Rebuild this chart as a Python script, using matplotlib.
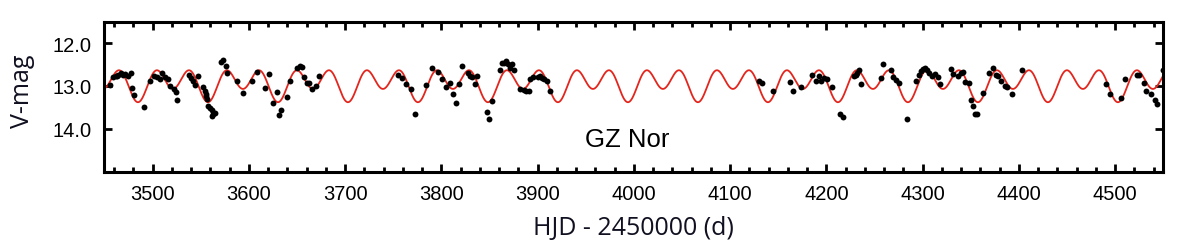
import numpy as np
import matplotlib
matplotlib.use("Agg")
import matplotlib.pyplot as plt
from matplotlib.ticker import MultipleLocator

# observed V magnitudes (HJD - 2450000)
hjd = [
    3455.7, 3459.2, 3461.6, 3463.0, 3464.4, 3466.8, 3468.9, 3471.3, 3474.0, 3477.2,
    3478.2, 3481.0, 3491.4, 3497.3, 3501.8, 3504.9, 3507.7, 3510.1, 3512.9, 3516.3,
    3518.1, 3522.2, 3524.3, 3525.7, 3538.2, 3540.0, 3542.3, 3544.1, 3547.5, 3552.1,
    3554.8, 3555.3, 3555.8, 3556.2, 3557.9, 3559.7, 3561.4, 3562.1, 3563.1, 3564.9,
    3570.8, 3573.5, 3576.0, 3577.7, 3587.4, 3594.3, 3603.0, 3608.8, 3616.8, 3621.0,
    3625.5, 3629.0, 3631.7, 3633.5, 3639.4, 3642.8, 3649.7, 3653.2, 3655.0, 3657.4,
    3660.9, 3662.9, 3665.3, 3669.5, 3673.3,
    3754.8, 3758.9, 3763.4, 3768.3, 3772.7, 3784.2, 3790.0, 3796.9, 3801.1, 3804.6,
    3809.2, 3811.9, 3815.0, 3818.4, 3821.2, 3827.4, 3829.9, 3832.3, 3835.1, 3837.5,
    3847.9, 3850.0, 3853.1, 3861.1, 3862.8, 3865.2, 3867.4, 3869.1, 3871.5, 3873.3,
    3875.7, 3881.9, 3885.4, 3888.2, 3891.0, 3892.4, 3894.7, 3900.4, 3902.0, 3904.5,
    3906.9, 3909.7, 3913.2,
    4129.8, 4133.3, 4144.4, 4162.0, 4165.2, 4173.2, 4184.6, 4188.8, 4192.3, 4194.8,
    4197.5, 4201.0, 4206.2, 4213.8, 4217.2, 4228.7, 4230.4, 4232.2, 4233.9, 4235.6,
    4256.4, 4259.2, 4267.4, 4269.5, 4272.6, 4275.3, 4284.1, 4292.7, 4296.2, 4298.7,
    4300.8, 4302.5, 4304.2, 4306.6, 4310.1, 4312.5, 4316.0, 4318.0, 4329.9, 4332.0,
    4336.8, 4339.6, 4342.4, 4344.1, 4348.2, 4350.0, 4352.1, 4354.4, 4356.8, 4363.1,
    4368.9, 4373.1, 4375.9, 4378.3, 4381.9, 4385.3, 4388.1, 4393.3, 4403.0,
    4490.3, 4494.7, 4505.8, 4510.3, 4522.5, 4524.9, 4529.5, 4532.2, 4537.1, 4540.9,
    4543.3, 4549.5,
]
vmag = [
    12.99, 12.80, 12.77, 12.76, 12.74, 12.70, 12.74, 12.72, 12.76, 12.70,
    13.05, 13.21, 13.50, 12.89, 12.76, 12.80, 12.84, 12.70, 12.80, 12.84,
    13.01, 13.07, 13.15, 13.32, 12.75, 12.82, 12.88, 12.97, 12.78, 13.03,
    13.12, 13.18, 13.24, 13.30, 13.46, 13.51, 13.56, 13.71, 13.65, 13.63,
    12.45, 12.39, 12.53, 12.71, 12.89, 13.17, 12.88, 12.68, 13.05, 12.72,
    13.40, 13.15, 13.67, 13.56, 13.25, 12.89, 12.58, 12.54, 12.57, 12.80,
    12.94, 12.94, 13.07, 13.01, 12.78,
    12.74, 12.82, 12.95, 13.07, 13.65, 12.99, 12.58, 12.68, 12.85, 13.02,
    12.93, 13.19, 13.40, 12.95, 12.53, 12.71, 12.78, 12.80, 12.95, 12.76,
    13.60, 13.77, 13.36, 12.62, 12.47, 12.47, 12.43, 12.50, 12.58, 12.49,
    12.64, 13.07, 13.09, 13.11, 13.12, 12.85, 12.80, 12.80, 12.76, 12.82,
    12.84, 12.88, 13.11,
    12.88, 12.94, 13.13, 12.91, 13.11, 13.02, 12.74, 12.88, 12.78, 12.88,
    12.81, 12.84, 13.03, 13.65, 13.73, 12.78, 12.74, 12.70, 12.64, 12.95,
    12.81, 12.49, 12.64, 12.80, 12.86, 12.93, 13.77, 12.88, 12.74, 12.66,
    12.60, 12.58, 12.63, 12.70, 12.76, 12.72, 12.80, 12.95, 12.60, 12.72,
    12.76, 12.70, 12.68, 12.91, 12.94, 13.34, 13.46, 13.65, 13.65, 13.16,
    12.70, 12.58, 12.74, 12.76, 12.88, 13.01, 13.02, 13.20, 12.63,
    12.95, 13.19, 13.29, 12.85, 12.74, 12.74, 12.93, 13.11, 13.19, 13.34,
    13.43, 12.62,
]

# two-harmonic model fit (red curve), parameters
period = 72.72
epoch = 3484.8
mean_mag = 12.935
amp_fund = 0.155
amp_harm = 0.29

t_model = np.linspace(3450, 4550, 3000)
phase = 2 * np.pi * (t_model - epoch) / period
m_model = mean_mag + amp_fund * np.cos(phase) + amp_harm * np.cos(2 * phase)

fig = plt.figure(figsize=(11.87, 2.51), dpi=100)
ax = fig.add_axes([0.088, 0.312, 0.892, 0.598])

ax.plot(t_model, m_model, color="#e3261d", lw=1.3, zorder=2)
ax.scatter(hjd, vmag, s=18, color="black", linewidths=0, zorder=3)

ax.set_xlim(3450, 4550)
ax.set_ylim(15.0, 11.5)
ax.xaxis.set_major_locator(MultipleLocator(100))
ax.xaxis.set_minor_locator(MultipleLocator(20))
ax.set_yticks([12, 13, 14])
ax.set_yticklabels(["12.0", "13.0", "14.0"])

for s in ax.spines.values():
    s.set_linewidth(2.2)
ax.tick_params(which="both", direction="in", top=True, right=True, width=2)
ax.tick_params(which="major", length=6, pad=9, labelsize=14.5)
ax.tick_params(which="minor", length=3.5)
for lab in ax.get_xticklabels() + ax.get_yticklabels():
    lab.set_family("Liberation Sans")

ax.text(3993, 14.23, "GZ Nor", fontsize=18.5, family="Liberation Sans",
        ha="center", va="center")

ax.set_xlabel("HJD - 2450000 (d)", fontsize=18, family="Open Sans", color="#101020")
ax.xaxis.set_label_coords(0.5, -0.369)
ax.xaxis.label.set_va("center")
ax.set_ylabel("V-mag", fontsize=18, family="Open Sans", color="#101020")
ax.yaxis.set_label_coords(-0.077, 0.541)
ax.yaxis.label.set_va("center")

fig.savefig("out.png", dpi=100)
